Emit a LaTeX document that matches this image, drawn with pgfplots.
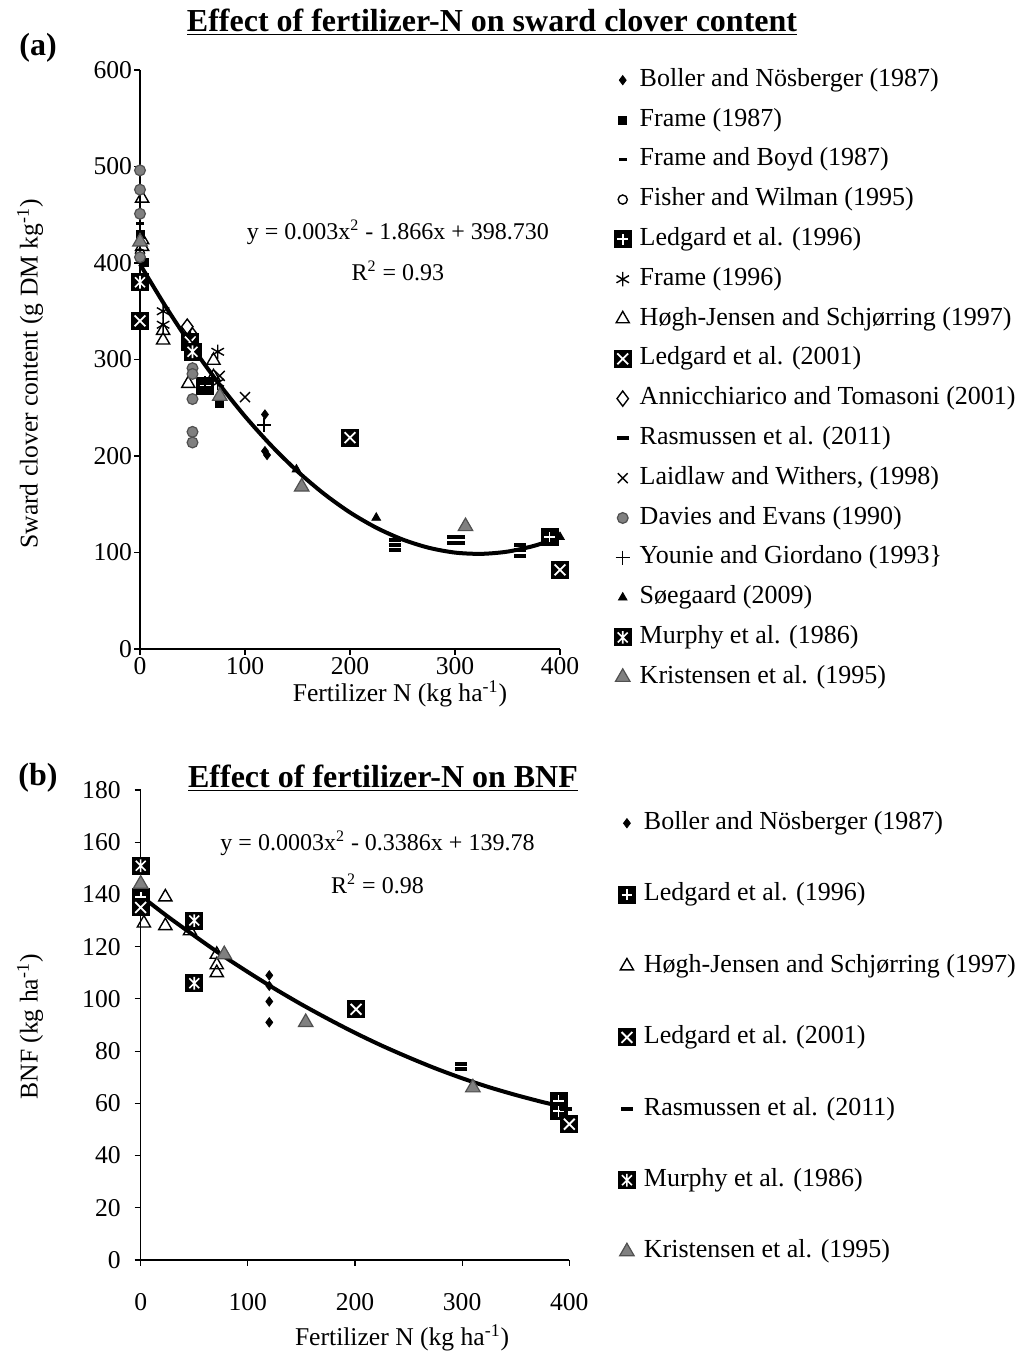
\documentclass[border=0pt]{standalone}
\usepackage{fontspec}
\setmainfont{Liberation Serif}
\usepackage{pgfplots}
\pgfplotsset{compat=1.18}
\usetikzlibrary{plotmarks}

\definecolor{mgray}{RGB}{128,128,128}
\definecolor{dgray}{RGB}{80,80,80}

\pgfdeclareplotmark{sqplus}{%
 \pgfpathrectangle{\pgfpoint{-\pgfplotmarksize}{-\pgfplotmarksize}}{\pgfpoint{2\pgfplotmarksize}{2\pgfplotmarksize}}%
 \pgfusepathqfill
 \pgfscope
 \pgfsetstrokecolor{white}\pgfsetlinewidth{0.9pt}%
 \pgfpathmoveto{\pgfpoint{-0.6\pgfplotmarksize}{0pt}}\pgfpathlineto{\pgfpoint{0.6\pgfplotmarksize}{0pt}}%
 \pgfpathmoveto{\pgfpoint{0pt}{-0.6\pgfplotmarksize}}\pgfpathlineto{\pgfpoint{0pt}{0.6\pgfplotmarksize}}%
 \pgfusepathqstroke
 \endpgfscope}
\pgfdeclareplotmark{sqx}{%
 \pgfpathrectangle{\pgfpoint{-\pgfplotmarksize}{-\pgfplotmarksize}}{\pgfpoint{2\pgfplotmarksize}{2\pgfplotmarksize}}%
 \pgfusepathqfill
 \pgfscope
 \pgfsetstrokecolor{white}\pgfsetlinewidth{0.9pt}%
 \pgfpathmoveto{\pgfpoint{-0.6\pgfplotmarksize}{-0.6\pgfplotmarksize}}\pgfpathlineto{\pgfpoint{0.6\pgfplotmarksize}{0.6\pgfplotmarksize}}%
 \pgfpathmoveto{\pgfpoint{-0.6\pgfplotmarksize}{0.6\pgfplotmarksize}}\pgfpathlineto{\pgfpoint{0.6\pgfplotmarksize}{-0.6\pgfplotmarksize}}%
 \pgfusepathqstroke
 \endpgfscope}
\pgfdeclareplotmark{sqast}{%
 \pgfpathrectangle{\pgfpoint{-\pgfplotmarksize}{-\pgfplotmarksize}}{\pgfpoint{2\pgfplotmarksize}{2\pgfplotmarksize}}%
 \pgfusepathqfill
 \pgfscope
 \pgfsetstrokecolor{white}\pgfsetlinewidth{0.8pt}%
 \pgfpathmoveto{\pgfpoint{-0.55\pgfplotmarksize}{-0.55\pgfplotmarksize}}\pgfpathlineto{\pgfpoint{0.55\pgfplotmarksize}{0.55\pgfplotmarksize}}%
 \pgfpathmoveto{\pgfpoint{-0.55\pgfplotmarksize}{0.55\pgfplotmarksize}}\pgfpathlineto{\pgfpoint{0.55\pgfplotmarksize}{-0.55\pgfplotmarksize}}%
 \pgfpathmoveto{\pgfpoint{0pt}{-0.7\pgfplotmarksize}}\pgfpathlineto{\pgfpoint{0pt}{0.7\pgfplotmarksize}}%
 \pgfusepathqstroke
 \endpgfscope}

\newcommand{\fnt}{\fontsize{12.8}{15}\selectfont}
\newcommand{\lfnt}{\fontsize{13}{15}\selectfont}
\newcommand{\efnt}{\fontsize{12}{14}\selectfont}
\newcommand{\tfnt}{\fontsize{16}{19}\selectfont\bfseries}

\pgfplotsset{
 myaxis/.style={
  scale only axis,
  axis x line*=bottom, axis y line*=left,
  axis line style={-, line width=0.6pt},
  tick align=outside, major tick length=3pt,
  tick style={line width=0.6pt, black},
  enlargelimits=false, clip=false,
  /pgf/number format/assume math mode=true,
  font=\fnt,
  tick label style={font=\fnt},
  label style={font=\fnt},
  legend cell align=left,
  legend image code/.code={\draw[mark repeat=2,mark phase=2,##1] plot coordinates {(0cm,0.6pt) (0.15cm,0.6pt) (0.3cm,0.6pt)};},
 },
 boller/.style={only marks, black, mark=diamond*, mark size=2.3pt},
 frameA/.style={only marks, black, mark=square*, mark size=2pt},
 fboyd/.style={only marks, black, mark=-, mark size=2pt, mark options={line width=1.6pt}},
 fisher/.style={only marks, black, mark=o, mark size=2.3pt, mark options={line width=0.7pt}},
 ledA/.style={only marks, black, mark=sqplus, mark size=4.5pt, mark options={fill=black}},
 frameB/.style={only marks, black, mark=asterisk, mark size=3.6pt, mark options={line width=0.7pt}},
 hogh/.style={only marks, black, mark=triangle, mark size=3.8pt, mark options={line width=0.7pt}},
 ledB/.style={only marks, black, mark=sqx, mark size=4.5pt, mark options={fill=black}},
 anni/.style={only marks, black, mark=diamond, mark size=3.8pt, mark options={line width=0.7pt}},
 rasm/.style={only marks, black, mark=-, mark size=3pt, mark options={line width=2pt}},
 laid/.style={only marks, black, mark=x, mark size=3.5pt, mark options={line width=0.7pt}},
 davies/.style={only marks, mark=*, mark size=2.7pt, mark options={fill=mgray, draw=dgray, line width=0.6pt}},
 younie/.style={only marks, black, mark=+, mark size=3.6pt, mark options={line width=0.7pt}},
 soeg/.style={only marks, black, mark=triangle*, mark size=2.5pt},
 murphy/.style={only marks, black, mark=sqast, mark size=4.5pt, mark options={fill=black}},
 krist/.style={only marks, mark=triangle*, mark size=4.2pt, mark options={fill=mgray, draw=dgray, line width=0.6pt}},
}

\begin{document}
\begin{tikzpicture}
\path[use as bounding box] (0,0) rectangle (510pt,677pt);

% ---------------- (a) ----------------
\begin{axis}[myaxis,
  at={(70pt,352.5pt)}, anchor=south west,
  width=210pt, height=289.5pt,
  xmin=0, xmax=400, ymin=0, ymax=600,
  xtick={0,100,200,300,400}, ytick={0,100,200,300,400,500,600},
  xticklabel style={yshift=2.5pt},
  yticklabel style={xshift=2.5pt},
  xlabel={Fertilizer N (kg ha\textsuperscript{-1})},
  xlabel style={at={(axis description cs:0.619,0)}, anchor=center, yshift=-22.5pt},
  ylabel={Sward clover content (g DM kg\textsuperscript{-1})},
  ylabel style={at={([xshift=-55pt]axis description cs:0,0.475)}, anchor=center},
  legend style={draw=none, fill=none, at={(1.127,1)}, anchor=north west,
    inner sep=0pt, row sep=8.9pt, column sep=4pt,
    nodes={inner sep=0pt, text height=8pt, text depth=3pt}, font=\lfnt},
]
\addplot[boller] coordinates {(119,243) (119,205) (121,201)};
\addlegendentry{Boller and Nösberger (1987)}
\addplot[frameA] coordinates {(0,430) (4,401) (76,255)};
\addlegendentry{Frame (1987)}
\addplot[fboyd] coordinates {(0,441)};
\addlegendentry{Frame and Boyd (1987)}
\addplot[fisher] coordinates {(0,410)};
\addlegendentry{Fisher and Wilman (1995)}
\addplot[ledA] coordinates {(62,273) (390,116)};
\addlegendentry{Ledgard et al. (1996)}
\addplot[frameB] coordinates {(22,350) (22,336) (74,308) (74,276) (48,322)};
\addlegendentry{Frame (1996)}
\addplot[hogh] coordinates {(2,467) (2,424) (2,417) (22,330) (22,320) (46,275) (70,299) (70,282)};
\addlegendentry{Høgh-Jensen and Schjørring (1997)}
\addplot[ledB] coordinates {(0,340) (48,318) (200,219) (400,82)};
\addlegendentry{Ledgard et al. (2001)}
\addplot[anni] coordinates {(45,334) (50,325)};
\addlegendentry{Annicchiarico and Tomasoni (2001)}
\addplot[rasm] coordinates {(243,113) (243,108) (243,103) (298,116) (304,116) (298,110) (304,110) (362,108) (362,103) (362,96)};
\addlegendentry{Rasmussen et al. (2011)}
\addplot[laid] coordinates {(100,261) (76,283)};
\addlegendentry{Laidlaw and Withers, (1998)}
\addplot[davies] coordinates {(0,496) (0,476) (0,451) (0,406) (50,291) (50,285) (50,259) (50,225) (50,214)};
\addlegendentry{Davies and Evans (1990)}
\addplot[younie] coordinates {(118,232) (62,275) (0,372)};
\addlegendentry{Younie and Giordano (1993\}}
\addplot[soeg] coordinates {(149,186) (225,136) (400,116)};
\addlegendentry{Søegaard (2009)}
\addplot[murphy] coordinates {(0,380) (50,308)};
\addlegendentry{Murphy et al. (1986)}
\addplot[krist] coordinates {(0,422) (76,262) (154,168) (310,127)};
\addlegendentry{Kristensen et al. (1995)}
\addplot[black, line width=2pt, smooth, forget plot] coordinates {
 (0,398.7) (25,353.9) (50,312.7) (75,275.1) (100,241.1) (125,210.8) (150,184.1)
 (175,161.0) (200,141.5) (225,125.7) (250,113.5) (275,104.9) (300,99.9)
 (325,98.6) (350,100.9) (375,106.8) (393,113.3)};
\node[font=\efnt] at (axis cs:245.7,432) {y = 0.003x\textsuperscript{2} - 1.866x + 398.730};
\node[font=\efnt] at (axis cs:245.7,391.7) {R\textsuperscript{2} = 0.93};
\end{axis}

% ---------------- (b) ----------------
\begin{axis}[myaxis,
  at={(70.35pt,47pt)}, anchor=south west,
  width=214.3pt, height=235pt,
  xmin=0, xmax=400, ymin=0, ymax=180,
  xtick={0,100,200,300,400}, ytick={0,20,40,60,80,100,120,140,160,180},
  xticklabel style={yshift=-10pt},
  yticklabel style={xshift=-3.5pt},
  xlabel={Fertilizer N (kg ha\textsuperscript{-1})},
  xlabel style={at={(axis description cs:0.61,0)}, anchor=center, yshift=-39pt},
  ylabel={BNF (kg ha\textsuperscript{-1})},
  ylabel style={at={([xshift=-55.35pt]axis description cs:0,0.496)}, anchor=center},
  legend style={draw=none, fill=none, at={(1.1125,0.951)}, anchor=north west,
    inner sep=0pt, row sep=24.7pt, column sep=4pt,
    nodes={inner sep=0pt, text height=8pt, text depth=3pt}, font=\lfnt},
]
\addplot[boller] coordinates {(120,109) (120,105) (120,99) (120,91)};
\addlegendentry{Boller and Nösberger (1987)}
\addplot[ledA] coordinates {(0,139) (390,61) (390,57)};
\addlegendentry{Ledgard et al. (1996)}
\addplot[hogh] coordinates {(3,129) (23,139) (23,128) (46,126) (71,117) (71,113) (71,110)};
\addlegendentry{Høgh-Jensen and Schjørring (1997)}
\addplot[ledB] coordinates {(0,135) (201,96) (400,52)};
\addlegendentry{Ledgard et al. (2001)}
\addplot[rasm] coordinates {(299,75) (299,73) (397,58)};
\addlegendentry{Rasmussen et al. (2011)}
\addplot[murphy] coordinates {(0,151) (50,130) (50,106)};
\addlegendentry{Murphy et al. (1986)}
\addplot[krist] coordinates {(0,144) (78,117) (154,91) (310,66)};
\addlegendentry{Kristensen et al. (1995)}
\addplot[black, line width=2pt, smooth, forget plot] coordinates {
 (0,139.5) (25,131.6) (50,124.2) (75,117.0) (100,110.3) (125,103.9) (150,97.9)
 (175,92.3) (200,87.0) (225,82.1) (250,77.6) (275,73.4) (300,69.6)
 (325,66.2) (350,63.2) (375,60.5) (392,58.9)};
\node[font=\efnt] at (axis cs:221,159.7) {y = 0.0003x\textsuperscript{2} - 0.3386x + 139.78};
\node[font=\efnt] at (axis cs:221,144) {R\textsuperscript{2} = 0.98};
\end{axis}

\node[font=\tfnt] at (246pt,666pt) {\underline{Effect of fertilizer-N on sward clover content}};
\node[font=\tfnt] at (19pt,653pt) {(a)};
\node[font=\tfnt] at (191.5pt,288pt) {\underline{Effect of fertilizer-N on BNF}};
\node[font=\tfnt] at (19pt,288pt) {(b)};
\end{tikzpicture}
\end{document}
